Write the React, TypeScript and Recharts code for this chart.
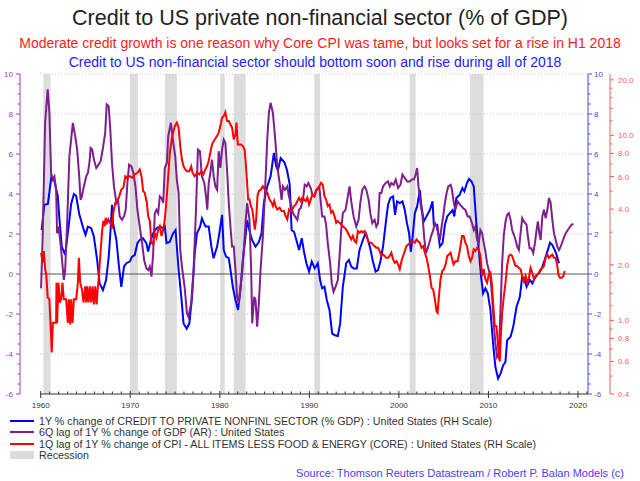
import React from "react";
import { ComposedChart, Line, XAxis, YAxis, ReferenceArea, ReferenceLine } from "recharts";

// 1Y % change of credit to private non-financial sector (RH linear scale)
const creditYears = [
  1960.1, 1960.4, 1960.8, 1961.0, 1961.2, 1961.5, 1961.9, 1962.1, 1962.35, 1962.65, 1962.8, 1963.2, 1963.4, 1963.7,
  1963.96, 1964.3, 1964.7, 1965.0, 1965.27, 1965.64, 1965.94, 1966.3, 1966.58, 1966.95, 1967.3, 1967.6, 1967.8, 1967.96,
  1968.07, 1968.45, 1968.74, 1969.0, 1969.3, 1969.57, 1969.94, 1970.2, 1970.5, 1970.8, 1971.06, 1971.4, 1971.8, 1972.0,
  1972.3, 1972.56, 1972.93, 1973.3, 1973.7, 1973.86, 1974.05, 1974.4, 1974.8, 1975.06, 1975.4, 1975.7, 1975.95, 1976.3,
  1976.6, 1976.9, 1977.2, 1977.45, 1977.8, 1978.0, 1978.4, 1978.76, 1979.06, 1979.3, 1979.7, 1979.95, 1980.25, 1980.44,
  1980.7, 1981.0, 1981.3, 1981.45, 1981.75, 1982.04, 1982.3, 1982.57, 1982.87, 1983.05, 1983.3, 1983.6, 1983.99, 1984.36,
  1984.66, 1984.92, 1985.3, 1985.67, 1986.04, 1986.3, 1986.5, 1986.8, 1987.2, 1987.5, 1987.8, 1988.02, 1988.3, 1988.55,
  1988.85, 1989.15, 1989.4, 1989.67, 1989.97, 1990.27, 1990.6, 1990.94, 1991.2, 1991.43, 1991.69, 1991.95, 1992.25,
  1992.55, 1992.85, 1993.18, 1993.44, 1993.74, 1994.12, 1994.42, 1994.68, 1994.94, 1995.3, 1995.6, 1995.98, 1996.28,
  1996.55, 1996.8, 1997.1, 1997.4, 1997.67, 1997.93, 1998.23, 1998.53, 1998.79, 1999.05, 1999.35, 1999.57, 1999.8,
  2000.1, 2000.4, 2000.66, 2000.9, 2001.14, 2001.33, 2001.5, 2001.78, 2002.04, 2002.34, 2002.5, 2002.78, 2003.08,
  2003.46, 2003.76, 2003.9, 2004.28, 2004.58, 2004.88, 2005.14, 2005.4, 2005.7, 2006.0, 2006.19, 2006.41, 2006.79,
  2007.09, 2007.31, 2007.61, 2007.83, 2008.1, 2008.36, 2008.65, 2008.92, 2009.18, 2009.4, 2009.66, 2009.93, 2010.22,
  2010.52, 2010.78, 2011.08, 2011.35, 2011.64, 2011.9, 2012.09, 2012.47, 2012.77, 2013.14, 2013.51, 2013.77, 2014.04,
  2014.26, 2014.63, 2014.9, 2015.16, 2015.46, 2015.76, 2016.02, 2016.28, 2016.58, 2016.88, 2017.14, 2017.4, 2017.62,
  2017.88,
];
const creditValues = [
  2.2, 3.46, 3.5, 4.2, 4.9, 4.7, 3.9, 2.7, 1.37, 1.04, 1.2, 2.7, 3.5, 4.0,
  3.9, 3.0, 2.37, 1.96, 2.37, 2.29, 1.87, 0.7, -0.47, -0.8, -0.3, 0.87, 2.2, 3.46,
  2.54, 1.7, 0.37, -0.64, 0.37, 0.54, 0.62, 0.87, 0.95, 1.54, 1.7, 1.79, 1.54, 1.12,
  1.7, 2.04, 2.29, 2.37, 2.29, 2.37, 1.54, 1.6, 2.04, 2.2, 0.2, -1.14, -2.47, -2.73,
  -2.47, -1.14, 1.04, 2.04, 2.37, 2.79, 2.37, 2.37, 1.37, 0.79, 1.37, 2.04, 2.96, 1.2,
  0.87, 0.79, -0.13, -0.64, -1.3, -1.8, -0.8, 0.7, 1.87, 2.7, 2.2, 1.7, 1.37, 1.6,
  2.04, 3.55, 4.38, 4.88, 6.05, 5.38, 5.2, 5.8, 5.6, 5.2, 4.5, 2.2, 2.1, 1.7,
  1.2, 1.79, 1.12, 0.54, 0.12, 0.62, 0.28, 0.54, -0.3, -0.72, -0.64, -1.3, -1.8,
  -2.98, -3.06, -3.1, -2.47, -0.64, 0.54, 0.7, 0.37, 0.28, 0.28, 1.2, 1.7, 2.04,
  1.7, 1.29, 0.62, 0.12, 0.2, 0.62, 1.37, 2.54, 3.46, 3.8, 3.88, 2.96, 3.63,
  3.55, 3.63, 3.2, 2.54, 2.04, 1.12, 1.7, 3.04, 3.38, 4.2, 3.46, 2.62, 2.88,
  3.2, 3.63, 2.46, 2.46, 1.37, 1.54, 2.46, 2.88, 3.04, 3.2, 2.88, 3.8, 3.96,
  4.3, 4.13, 4.55, 4.75, 4.63, 4.38, 2.54, 1.2, -0.13, -0.97, -0.72, -0.97, -1.8,
  -3.48, -4.65, -5.23, -4.98, -4.57, -4.4, -3.31, -3.14, -2.64, -1.64, -1.14, -0.13, -0.3,
  -0.64, -0.3, -0.47, -0.22, -0.05, 0.12, 0.37, 0.7, 1.12, 1.57, 1.45, 1.2, 0.95,
  0.54,
];

// 6Q lag of 1Y % change of GDP (left scale)
const gdpYears = [
  1960.04, 1960.22, 1960.49, 1960.78, 1960.97, 1961.16, 1961.35, 1961.53, 1961.72, 1961.83, 1962.0, 1962.13, 1962.35,
  1962.58, 1962.73, 1962.95, 1963.2, 1963.59, 1963.85, 1964.07, 1964.3, 1964.45, 1964.6, 1964.82, 1965.08, 1965.27,
  1965.46, 1965.57, 1965.75, 1965.94, 1966.2, 1966.46, 1966.69, 1966.95, 1967.2, 1967.37, 1967.59, 1967.77, 1967.96,
  1968.18, 1968.45, 1968.63, 1968.82, 1969.08, 1969.3, 1969.49, 1969.68, 1969.87, 1970.13, 1970.35, 1970.58, 1970.8,
  1971.06, 1971.32, 1971.55, 1971.8, 1972.0, 1972.18, 1972.37, 1972.56, 1972.74, 1972.93, 1973.12, 1973.3, 1973.49,
  1973.68, 1973.86, 1974.09, 1974.24, 1974.54, 1974.8, 1975.02, 1975.2, 1975.4, 1975.58, 1975.77, 1976.07, 1976.33,
  1976.5, 1976.8, 1977.07, 1977.34, 1977.56, 1977.78, 1978.0, 1978.27, 1978.46, 1978.6, 1978.76, 1978.94, 1979.13,
  1979.32, 1979.5, 1979.7, 1979.88, 1980.06, 1980.25, 1980.44, 1980.62, 1980.81, 1981.0, 1981.22, 1981.37, 1981.56,
  1981.75, 1981.93, 1982.12, 1982.3, 1982.49, 1982.68, 1982.87, 1983.05, 1983.32, 1983.5, 1983.62, 1983.84, 1983.99,
  1984.17, 1984.36, 1984.55, 1984.81, 1985.04, 1985.3, 1985.48, 1985.67, 1985.93, 1986.16, 1986.42, 1986.68, 1986.9,
  1987.05, 1987.28, 1987.54, 1987.72, 1987.91, 1988.17, 1988.4, 1988.66, 1988.85, 1989.04, 1989.29, 1989.48, 1989.7,
  1989.89, 1990.15, 1990.34, 1990.57, 1990.75, 1991.13, 1991.43, 1991.69, 1991.87, 1992.06, 1992.32, 1992.51, 1992.7,
  1992.92, 1993.18, 1993.37, 1993.56, 1993.74, 1994.04, 1994.3, 1994.49, 1994.68, 1994.94, 1995.24, 1995.5, 1995.69,
  1995.91, 1996.17, 1996.36, 1996.62, 1996.81, 1997.03, 1997.29, 1997.48, 1997.67, 1997.85, 1998.04, 1998.23, 1998.53,
  1998.79, 1998.98, 1999.16, 1999.42, 1999.65, 1999.91, 2000.17, 2000.4, 2000.66, 2000.92, 2001.22, 2001.44, 2001.67,
  2001.81, 2002.04, 2002.19, 2002.41, 2002.64, 2002.82, 2003.01, 2003.16, 2003.38, 2003.65, 2003.83, 2004.02, 2004.21,
  2004.39, 2004.58, 2004.77, 2004.95, 2005.14, 2005.33, 2005.51, 2005.78, 2005.93, 2006.11, 2006.3, 2006.56, 2006.86,
  2007.16, 2007.42, 2007.68, 2007.91, 2008.17, 2008.36, 2008.54, 2008.73, 2008.92, 2009.1, 2009.29, 2009.48, 2009.66,
  2009.85, 2010.04, 2010.22, 2010.41, 2010.6, 2010.78, 2010.97, 2011.16, 2011.35, 2011.53, 2011.72, 2011.91, 2012.09,
  2012.28, 2012.47, 2012.65, 2012.84, 2013.03, 2013.21, 2013.4, 2013.59, 2013.77, 2013.96, 2014.26, 2014.41, 2014.6,
  2014.78, 2015.01, 2015.19, 2015.38, 2015.53, 2015.68, 2015.83, 2016.02, 2016.2, 2016.39, 2016.58, 2016.76, 2016.95,
  2017.14, 2017.32, 2017.51, 2017.7, 2017.88, 2018.07, 2018.33, 2018.63, 2019.0, 2019.27, 2019.49,
];
const gdpValues = [
  -0.72, 1.87, 7.56, 9.23, 8.06, 5.05, 4.72, 4.88, 4.21, 2.04, 2.37, 1.87, 0.87,
  -0.3, 0.2, 2.54, 5.89, 7.56, 6.89, 6.22, 4.88, 3.71, 3.88, 4.38, 4.88, 5.05,
  5.64, 6.3, 6.22, 5.72, 5.3, 5.47, 5.64, 6.3, 7.06, 8.48, 8.39, 7.22, 5.55,
  4.38, 3.55, 3.71, 2.88, 2.71, 2.88, 3.21, 4.55, 5.47, 5.38, 5.05, 4.38, 3.21,
  2.37, 1.54, 0.7, 0.28, 0.2, 0.37, -0.13, 1.04, 3.04, 3.21, 3.04, 3.88, 3.8,
  3.55, 5.3, 5.55, 6.89, 7.56, 6.56, 5.89, 4.72, 4.05, 1.2, 0.37, -0.64, -1.97,
  -2.14, -1.47, 0.2, 3.21, 6.22, 6.14, 4.88, 4.55, 3.88, 3.21, 4.55, 5.05, 5.72,
  4.88, 4.38, 4.21, 6.14, 5.3, 6.22, 6.72, 6.56, 5.22, 3.55, 2.2, 1.37, 1.37,
  0.2, -1.14, -1.47, -0.64, 0.03, 1.2, 2.54, 3.55, 2.71, 0.2, -2.47, -1.14, -1.3,
  -2.64, -1.47, 0.2, 1.87, 4.05, 6.72, 8.06, 8.56, 8.06, 6.89, 5.38, 4.55, 3.71,
  4.38, 4.21, 4.38, 3.88, 3.55, 3.04, 2.88, 2.71, 3.21, 3.3, 3.71, 4.46, 4.38,
  4.55, 4.3, 3.96, 3.88, 4.21, 4.3, 2.88, 2.88, 2.46, 1.54, 0.54, -0.47, -0.89,
  -0.64, -0.3, 0.87, 2.2, 3.04, 3.21, 3.88, 4.38, 3.63, 2.88, 2.37, 2.71, 3.55,
  4.21, 4.38, 4.21, 3.71, 3.04, 2.54, 2.71, 2.37, 2.54, 4.05, 4.05, 4.38, 4.55,
  4.63, 4.38, 4.55, 4.46, 4.72, 4.3, 4.46, 4.97, 4.8, 4.63, 4.63, 4.72, 4.72,
  4.88, 5.3, 4.38, 3.55, 2.88, 1.87, 1.04, 1.2, 1.54, 1.96, 2.2, 2.54, 2.37,
  2.04, 1.7, 2.37, 2.88, 3.55, 4.05, 4.38, 4.46, 4.21, 3.63, 3.21, 3.63, 3.46,
  3.3, 3.21, 2.88, 2.88, 2.54, 2.2, 2.37, 1.7, 1.54, 2.2, 2.04, 1.54, 1.12,
  0.54, 0.2, -0.13, -1.14, -2.47, -3.48, -4.15, -3.98, -1.8, 0.54, 1.96, 2.63, 2.96,
  3.04, 2.71, 2.2, 1.96, 1.7, 1.37, 1.2, 2.04, 2.79, 2.63, 2.46, 1.87, 1.29,
  1.29, 1.04, 1.54, 2.2, 2.63, 2.04, 1.7, 2.88, 3.21, 2.79, 3.21, 3.8, 3.55,
  2.71, 2.04, 1.7, 1.37, 1.2, 1.37, 1.7, 2.04, 2.29, 2.46, 2.51,
];

// 1Q lag of 1Y % change of core CPI, in % (RH log scale)
const cpiYears = [
  1960.04, 1960.2, 1960.34, 1960.5, 1960.63, 1960.78, 1960.97, 1961.08, 1961.23, 1961.35, 1961.53, 1961.72, 1961.76,
  1961.83, 1961.98, 1962.13, 1962.28, 1962.43, 1962.58, 1962.84, 1963.03, 1963.14, 1963.29, 1963.4, 1963.55, 1963.7,
  1963.96, 1964.15, 1964.26, 1964.41, 1964.6, 1964.78, 1964.97, 1965.08, 1965.19, 1965.34, 1965.49, 1965.64, 1965.79,
  1965.94, 1966.09, 1966.24, 1966.39, 1966.5, 1966.65, 1966.84, 1966.99, 1967.14, 1967.25, 1967.4, 1967.55, 1967.74,
  1967.96, 1968.11, 1968.33, 1968.56, 1968.78, 1969.0, 1969.23, 1969.45, 1969.68, 1969.94, 1970.2, 1970.5, 1970.8,
  1971.06, 1971.25, 1971.44, 1971.62, 1971.85, 1972.0, 1972.18, 1972.37, 1972.56, 1972.74, 1972.93, 1973.12, 1973.3,
  1973.49, 1973.68, 1973.86, 1974.05, 1974.24, 1974.42, 1974.68, 1974.98, 1975.2, 1975.4, 1975.58, 1975.77, 1975.95,
  1976.14, 1976.33, 1976.59, 1976.81, 1976.96, 1977.19, 1977.45, 1977.71, 1977.93, 1978.16, 1978.38, 1978.57, 1978.76,
  1978.94, 1979.13, 1979.43, 1979.69, 1979.88, 1980.06, 1980.25, 1980.44, 1980.62, 1980.81, 1981.0, 1981.19, 1981.37,
  1981.56, 1981.75, 1981.86, 1982.01, 1982.2, 1982.38, 1982.57, 1982.76, 1982.9, 1983.02, 1983.17, 1983.32, 1983.47,
  1983.62, 1983.77, 1983.91, 1984.06, 1984.21, 1984.36, 1984.59, 1984.81, 1985.04, 1985.3, 1985.56, 1985.78, 1985.93,
  1986.08, 1986.23, 1986.42, 1986.68, 1986.9, 1987.16, 1987.35, 1987.54, 1987.73, 1987.91, 1988.1, 1988.29, 1988.47,
  1988.66, 1988.85, 1989.03, 1989.22, 1989.41, 1989.59, 1989.78, 1989.97, 1990.15, 1990.34, 1990.57, 1990.75, 1990.94,
  1991.13, 1991.31, 1991.5, 1991.69, 1991.87, 1992.06, 1992.25, 1992.44, 1992.62, 1992.81, 1993.0, 1993.18, 1993.37,
  1993.56, 1993.74, 1993.93, 1994.12, 1994.3, 1994.49, 1994.68, 1994.86, 1995.05, 1995.24, 1995.42, 1995.61, 1995.8,
  1995.98, 1996.17, 1996.36, 1996.55, 1996.73, 1996.92, 1997.11, 1997.29, 1997.48, 1997.67, 1997.85, 1998.04, 1998.23,
  1998.41, 1998.6, 1998.79, 1998.97, 1999.16, 1999.35, 1999.53, 1999.72, 1999.91, 2000.1, 2000.28, 2000.47, 2000.66,
  2000.84, 2001.03, 2001.22, 2001.4, 2001.59, 2001.78, 2001.97, 2002.15, 2002.34, 2002.52, 2002.71, 2002.9, 2003.09,
  2003.27, 2003.46, 2003.65, 2003.83, 2004.02, 2004.21, 2004.32, 2004.47, 2004.65, 2004.84, 2005.03, 2005.22, 2005.4,
  2005.59, 2005.78, 2006.0, 2006.11, 2006.3, 2006.56, 2006.79, 2007.05, 2007.24, 2007.42, 2007.61, 2007.8, 2008.0,
  2008.17, 2008.36, 2008.54, 2008.73, 2008.92, 2009.1, 2009.29, 2009.48, 2009.66, 2009.85, 2010.04, 2010.22, 2010.37,
  2010.52, 2010.71, 2010.9, 2011.05, 2011.16, 2011.27, 2011.38, 2011.53, 2011.72, 2011.91, 2012.09, 2012.28, 2012.47,
  2012.65, 2012.84, 2013.03, 2013.21, 2013.4, 2013.59, 2013.77, 2013.96, 2014.15, 2014.34, 2014.52, 2014.71, 2014.9,
  2015.08, 2015.27, 2015.46, 2015.64, 2015.83, 2016.02, 2016.2, 2016.39, 2016.58, 2016.76, 2016.95, 2017.14, 2017.32,
  2017.51, 2017.7, 2017.81, 2017.99, 2018.18, 2018.37, 2018.52,
];
const cpiValues = [
  2.32, 2.05, 2.37, 1.89, 1.74, 1.33, 1.3, 0.99, 0.67, 0.97, 0.97, 0.97, 1.6,
  0.97, 1.6, 1.25, 1.3, 1.6, 1.3, 1.3, 0.97, 1.3, 0.95, 1.3, 0.97, 1.3,
  1.3, 1.6, 2.18, 1.6, 1.47, 1.25, 1.53, 1.25, 1.53, 1.25, 1.53, 1.25, 1.53,
  1.22, 1.53, 1.22, 1.53, 1.74, 2.23, 2.98, 3.45, 3.23, 3.59, 3.37, 3.52, 3.37,
  3.23, 3.82, 4.33, 4.42, 4.7, 5.1, 5.21, 6.02, 5.9, 6.02, 5.9, 6.16, 6.28,
  6.55, 6.02, 5.0, 4.9, 4.33, 3.67, 3.45, 2.63, 2.57, 2.98, 2.8, 3.1, 3.23,
  2.86, 3.1, 3.52, 4.5, 6.02, 8.06, 9.93, 11.24, 11.73, 11.02, 8.77, 7.41, 6.81,
  6.55, 6.41, 6.41, 6.81, 6.28, 6.02, 6.28, 6.16, 6.41, 6.16, 6.55, 6.81, 7.27,
  8.06, 8.95, 9.52, 9.93, 10.35, 11.24, 12.48, 12.73, 13.37, 11.96, 11.96, 11.47, 11.02,
  9.52, 10.13, 11.73, 8.95, 8.95, 8.95, 8.77, 8.41, 7.11, 5.8, 4.5, 4.5, 4.15,
  3.98, 3.52, 3.1, 3.52, 4.7, 5.0, 5.1, 5.32, 5.1, 4.9, 4.5, 4.33, 4.15,
  4.42, 4.15, 3.98, 4.07, 3.9, 3.9, 3.67, 3.52, 3.98, 3.9, 3.98, 4.15, 4.23,
  4.42, 4.61, 4.42, 4.61, 4.5, 4.42, 4.61, 4.23, 4.5, 4.79, 4.7, 5.0, 5.21,
  5.32, 5.55, 5.42, 4.7, 4.5, 4.15, 4.23, 3.82, 3.9, 3.67, 3.37, 3.45, 3.37,
  3.3, 3.23, 3.17, 3.1, 2.98, 2.86, 2.74, 2.86, 2.68, 2.63, 3.04, 2.98, 3.04,
  2.98, 3.04, 2.92, 2.68, 2.63, 2.63, 2.57, 2.52, 2.47, 2.47, 2.37, 2.23, 2.27,
  2.23, 2.18, 2.18, 2.23, 2.32, 2.14, 2.05, 2.09, 2.01, 1.89, 2.09, 2.23, 2.37,
  2.52, 2.57, 2.63, 2.63, 2.68, 2.63, 2.74, 2.68, 2.63, 2.47, 2.52, 2.32, 2.18,
  1.97, 1.74, 1.5, 1.47, 1.3, 1.12, 1.1, 1.35, 1.67, 1.85, 1.89, 2.01, 2.23,
  2.27, 2.32, 2.09, 2.01, 2.09, 2.09, 2.37, 2.86, 2.86, 2.63, 2.52, 2.23, 2.09,
  2.18, 2.42, 2.37, 2.47, 2.42, 2.23, 1.74, 1.89, 1.67, 1.6, 1.77, 1.81, 1.6,
  1.25, 0.93, 0.93, 0.76, 0.64, 0.6, 0.82, 1.1, 1.35, 1.6, 1.97, 2.23, 2.27,
  2.23, 2.09, 1.97, 1.97, 1.92, 1.89, 1.74, 1.63, 1.74, 1.6, 1.7, 1.92, 1.81,
  1.67, 1.74, 1.77, 1.81, 1.89, 1.92, 1.97, 2.18, 2.27, 2.18, 2.23, 2.27, 2.18,
  2.18, 1.97, 1.77, 1.7, 1.7, 1.74, 1.85,
];

const recessionStarts = [1960.3, 1969.95, 1973.87, 1980.05, 1981.55, 1990.55, 2001.2, 2007.95];
const recessionEnds = [1961.1, 1970.85, 1975.2, 1980.55, 1982.87, 1991.2, 2001.87, 2009.45];

const decadeLabels = [1960, 1970, 1980, 1990, 2000, 2010, 2020];
const yearTicks = Array.from({ length: 62 }, (_, i) => 1960 + i);
const linearLabels = [-6, -4, -2, 0, 2, 4, 6, 8, 10];
const linearTicks = Array.from({ length: 33 }, (_, i) => -6 + i * 0.5);
const gridLevels = [-4, -2, 2, 4, 6, 8, 10];
const cpiLabels = [0.4, 0.6, 0.8, 1, 2, 4, 6, 8, 10, 20];
const cpiMinor = [0.5, 0.7, 0.9, 1.2, 1.4, 1.6, 1.8, 3, 5, 7, 9, 12, 14, 16, 18];

const FONT = "'Liberation Sans', Arial, Helvetica, sans-serif";
const BLUE = "#0000ff";
const PURPLE = "#7f1f8f";
const RED = "#ff0000";
const PURPLE_AXIS = "#a23cb2";
const BLUE_AXIS = "#4646ff";
const RED_AXIS = "#ff5a5a";

const toRows = (xs: number[], vs: number[]) => xs.map((x, i) => ({ x, v: vs[i] }));
const creditRows = toRows(creditYears, creditValues);
const gdpRows = toRows(gdpYears, gdpValues);
const cpiRows = toRows(cpiYears, cpiValues);

const LeftTick = (props: any) => {
  const { x, y, payload } = props;
  const v = payload.value;
  const major = linearLabels.includes(v);
  return (
    <g>
      <line x1={x} x2={x - (major ? 4 : 2.5)} y1={y} y2={y} stroke={PURPLE_AXIS} />
      {major && (
        <text x={x - 7} y={y + 3} textAnchor="end" fontSize={8} fill={PURPLE_AXIS} fontFamily={FONT}>
          {v}
        </text>
      )}
    </g>
  );
};

const BlueTick = (props: any) => {
  const { x, y, payload } = props;
  const v = payload.value;
  const major = linearLabels.includes(v);
  return (
    <g>
      <line x1={x} x2={x + (major ? 4 : 2.5)} y1={y} y2={y} stroke={BLUE_AXIS} />
      {major && (
        <text x={x + 6} y={y + 3} textAnchor="start" fontSize={8} fill={BLUE_AXIS} fontFamily={FONT}>
          {v}
        </text>
      )}
    </g>
  );
};

const RedTick = (props: any) => {
  const { x, y, payload } = props;
  const v = payload.value;
  const major = cpiLabels.includes(v);
  return (
    <g>
      <line x1={x} x2={x + (major ? 4 : 2.5)} y1={y} y2={y} stroke={RED_AXIS} />
      {major && (
        <text x={x + 8} y={y + 3} textAnchor="start" fontSize={8} fill={RED_AXIS} fontFamily={FONT}>
          {v.toFixed(1)}
        </text>
      )}
    </g>
  );
};

const YearTick = (props: any) => {
  const { x, y, payload } = props;
  const v = payload.value;
  const major = decadeLabels.includes(v);
  return (
    <g>
      <line x1={x} x2={x} y1={major ? y - 3 : y - 2.5} y2={major ? y + 4 : y} stroke="#333" />
      {major && (
        <text x={x} y={y + 14} textAnchor="middle" fontSize={8} fill="#333" fontFamily={FONT}>
          {v}
        </text>
      )}
    </g>
  );
};

const legendItems = [
  { color: BLUE, label: "1Y % change of CREDIT TO PRIVATE NONFINL SECTOR (% GDP) : United States (RH Scale)" },
  { color: PURPLE, label: "6Q lag of 1Y % change of GDP (AR) : United States" },
  { color: RED, label: "1Q lag of 1Y % change of CPI - ALL ITEMS LESS FOOD & ENERGY (CORE) : United States (RH Scale)" },
];

const App: React.FC = () => {
  return (
    <div
      style={{
        position: "absolute",
        left: 0,
        top: 0,
        width: 640,
        height: 481,
        background: "#ffffff",
        fontFamily: FONT,
        overflow: "hidden",
      }}
    >
      <div style={{ position: "absolute", top: 7.8, left: 0, width: 640, textAlign: "center", fontSize: 21.5, lineHeight: 1, color: "#222" }}>
        Credit to US private non-financial sector (% of GDP)
      </div>
      <div style={{ position: "absolute", top: 36, left: 0, width: 640, textAlign: "center", fontSize: 14, lineHeight: 1, color: "#ff1a1a" }}>
        Moderate credit growth is one reason why Core CPI was tame, but looks set for a rise in H1 2018
      </div>
      <div style={{ position: "absolute", top: 55, left: 0, width: 630, textAlign: "center", fontSize: 14, lineHeight: 1, color: "#2020ff" }}>
        Credit to US non-financial sector should bottom soon and rise during all of 2018
      </div>

      <div style={{ position: "absolute", left: 0, top: 0 }}>
        <ComposedChart width={640} height={410} margin={{ top: 74, right: 0, bottom: 0, left: 0 }}>
          <XAxis
            dataKey="x"
            type="number"
            domain={[1959.92, 2021.12]}
            allowDataOverflow
            ticks={yearTicks}
            interval={0}
            tick={<YearTick />}
            tickLine={false}
            tickSize={0}
            tickMargin={0}
            height={16}
            axisLine={{ stroke: "#333" }}
          />
          <YAxis
            yAxisId="b-gdp"
            orientation="left"
            width={20}
            domain={[-6, 10]}
            ticks={linearTicks}
            interval={0}
            tick={<LeftTick />}
            tickLine={false}
            tickSize={0}
            tickMargin={0}
            axisLine={{ stroke: PURPLE_AXIS }}
          />
          <YAxis yAxisId="a-pad" orientation="left" width={20} tick={false} tickLine={false} axisLine={false} domain={[-6, 10]} />
          <YAxis
            yAxisId="d-cpi"
            orientation="right"
            width={30}
            scale="log"
            domain={[0.4, 21.5]}
            allowDataOverflow
            ticks={[...cpiLabels, ...cpiMinor].sort((a, b) => a - b)}
            interval={0}
            tick={<RedTick />}
            tickLine={false}
            tickSize={0}
            tickMargin={0}
            axisLine={{ stroke: RED_AXIS }}
          />
          <YAxis
            yAxisId="c-credit"
            orientation="right"
            width={22}
            domain={[-6, 10]}
            ticks={linearTicks}
            interval={0}
            tick={<BlueTick />}
            tickLine={false}
            tickSize={0}
            tickMargin={0}
            axisLine={{ stroke: BLUE_AXIS }}
          />

          {recessionStarts.map((s, i) => (
            <ReferenceArea key={`rec-${i}`} yAxisId="b-gdp" x1={s} x2={recessionEnds[i]} fill="#dcdcdc" fillOpacity={1} stroke="none" />
          ))}
          {gridLevels.map((g) => (
            <ReferenceLine key={`grid-${g}`} yAxisId="b-gdp" y={g} stroke="#c8c8c8" strokeDasharray="1 2" />
          ))}
          <ReferenceLine yAxisId="b-gdp" y={0} stroke="#555" />

          <Line yAxisId="c-credit" data={creditRows} dataKey="v" stroke={BLUE} strokeWidth={2} dot={false} isAnimationActive={false} />
          <Line yAxisId="b-gdp" data={gdpRows} dataKey="v" stroke={PURPLE} strokeWidth={2} dot={false} isAnimationActive={false} />
          <Line yAxisId="d-cpi" data={cpiRows} dataKey="v" stroke={RED} strokeWidth={2} dot={false} isAnimationActive={false} />
        </ComposedChart>
      </div>

      {legendItems.map((item, i) => (
        <div
          key={item.label}
          style={{ position: "absolute", left: 10, top: 414.5 + i * 11.6, height: 12, display: "flex", alignItems: "center", fontSize: 10.7, color: "#333", whiteSpace: "nowrap" }}
        >
          <span style={{ display: "inline-block", width: 24, height: 2, background: item.color, marginRight: 5 }} />
          {item.label}
        </div>
      ))}
      <div
        style={{ position: "absolute", left: 10, top: 449.3, height: 12, display: "flex", alignItems: "center", fontSize: 10.7, color: "#333" }}
      >
        <span style={{ display: "inline-block", width: 24, height: 8, background: "#dcdcdc", marginRight: 5 }} />
        Recession
      </div>
      <div style={{ position: "absolute", right: 16, top: 467, fontSize: 11, lineHeight: "13px", color: "#4d3bf2", whiteSpace: "nowrap" }}>
        Source: Thomson Reuters Datastream / Robert P. Balan Models (c)
      </div>
    </div>
  );
};

export default App;
